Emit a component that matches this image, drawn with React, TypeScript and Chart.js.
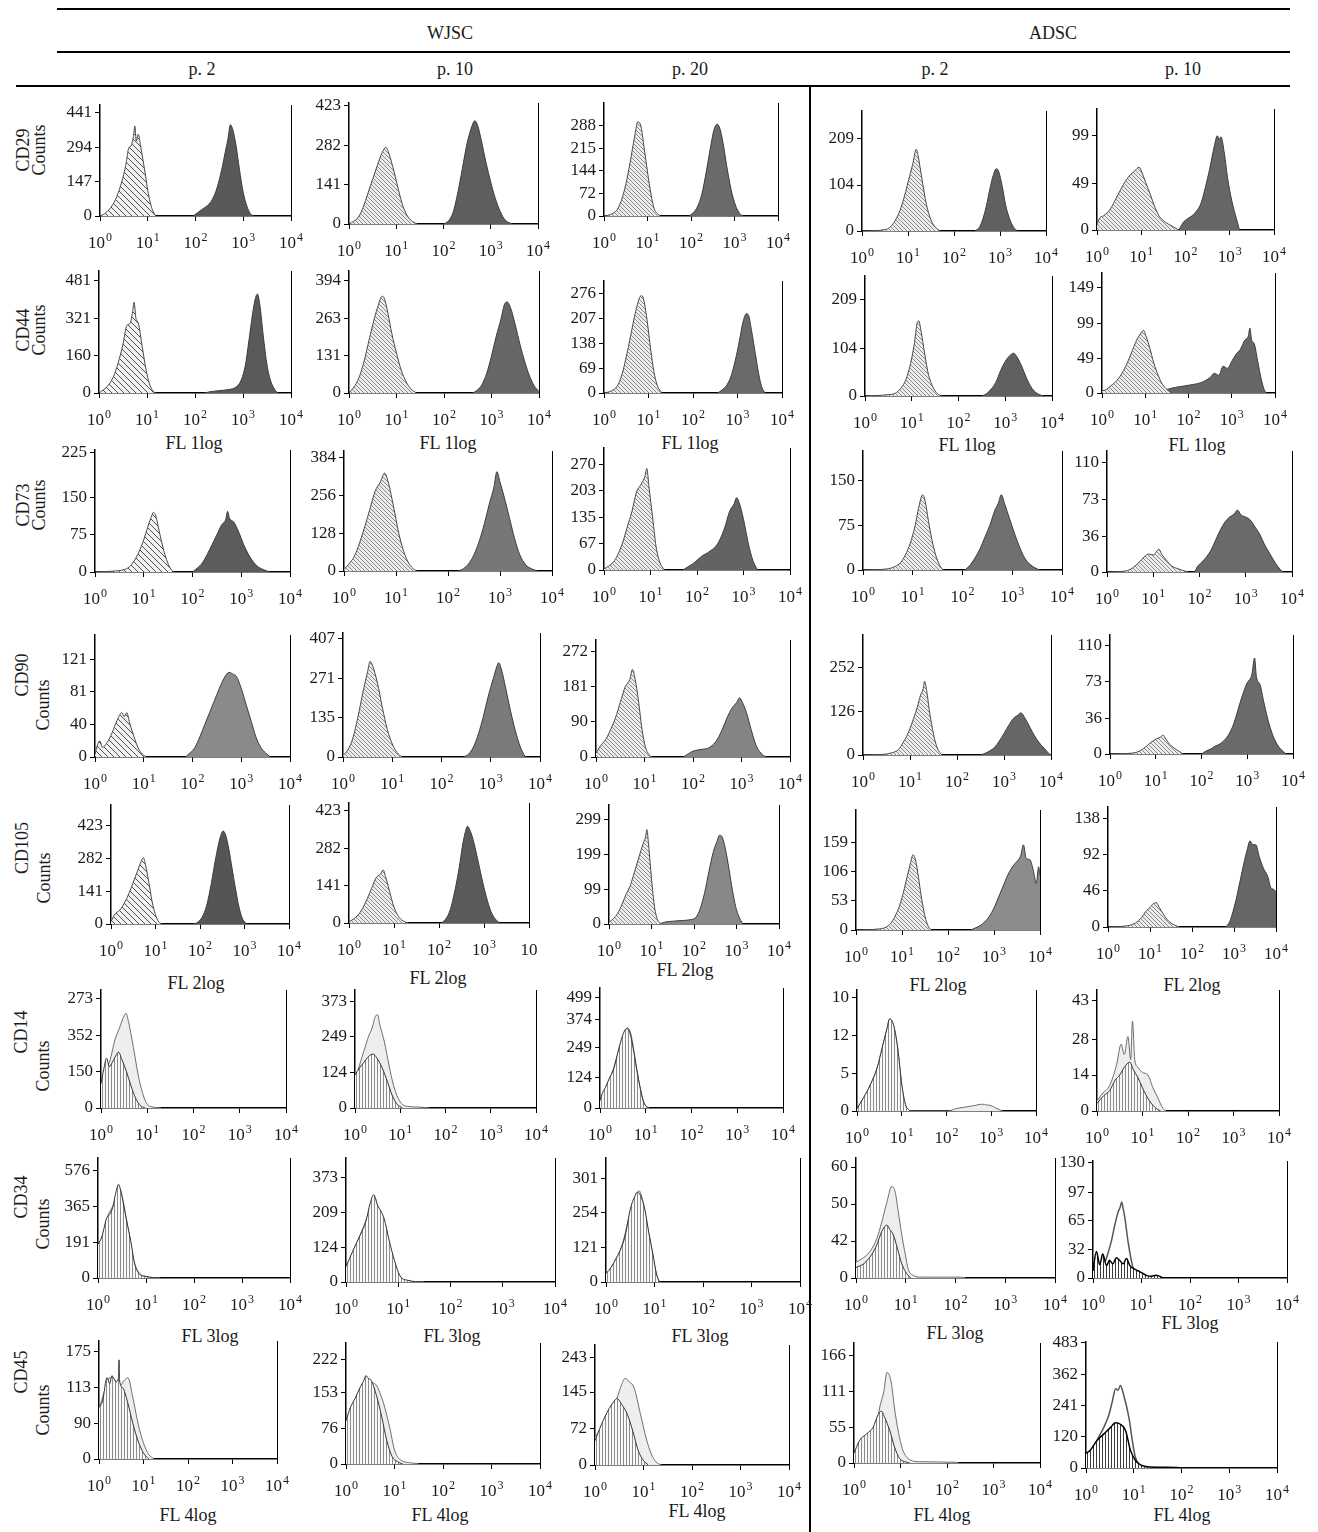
import React, { useEffect, useRef } from 'react';
import { Chart, registerables } from 'chart.js';

Chart.register(...registerables);

type Pt = [number, number];

// ---------- labels ----------
const GROUPS = ['WJSC', 'ADSC'];
const PASSAGES = ['p. 2', 'p. 10', 'p. 20', 'p. 2', 'p. 10'];
const MARKERS = ['CD29', 'CD44', 'CD73', 'CD90', 'CD105', 'CD14', 'CD34', 'CD45'];
const CHANNELS = ['FL 1log', 'FL 2log', 'FL 3log', 'FL 4log'];
const X_DECADES = [0, 1, 2, 3, 4]; // log10 of fluorescence: 10^0 .. 10^4

// ---------- data: [log10(FL), counts] ----------
// CD29
const CD29_ISO: Pt[][] = [
  [[0,0],[0.1,10],[0.2,30],[0.3,60],[0.4,110],[0.5,180],[0.55,230],[0.6,290],[0.65,300],[0.7,340],[0.73,385],[0.76,320],[0.8,350],[0.85,300],[0.9,240],[0.95,178],[1.0,110],[1.05,60],[1.1,25],[1.17,0]],
  [[0,0],[0.1,10],[0.2,25],[0.3,60],[0.4,110],[0.5,160],[0.6,210],[0.7,255],[0.78,275],[0.85,250],[0.95,190],[1.05,120],[1.15,60],[1.25,25],[1.35,8],[1.45,0]],
  [[0,0],[0.15,5],[0.3,20],[0.4,50],[0.5,100],[0.6,170],[0.7,250],[0.78,300],[0.85,285],[0.92,220],[1.0,140],[1.08,70],[1.15,25],[1.25,5],[1.3,0]],
  [[0,0],[0.5,3],[0.6,8],[0.7,20],[0.8,40],[0.9,70],[1.0,110],[1.1,150],[1.18,185],[1.22,170],[1.3,120],[1.4,60],[1.5,25],[1.6,8],[1.7,0]],
  [[0,5],[0.05,12],[0.15,15],[0.3,22],[0.45,35],[0.6,48],[0.75,58],[0.85,62],[0.95,66],[1.02,60],[1.1,50],[1.2,38],[1.3,25],[1.4,15],[1.55,8],[1.7,4],[1.85,0]],
];
const CD29_POS: Pt[][] = [
  [[1.95,0],[2.05,15],[2.15,30],[2.25,45],[2.35,70],[2.45,120],[2.55,200],[2.62,270],[2.68,330],[2.73,390],[2.78,370],[2.85,300],[2.92,200],[3.0,100],[3.08,40],[3.15,10],[3.22,0]],
  [[2.0,0],[2.1,10],[2.2,40],[2.3,110],[2.4,200],[2.5,290],[2.6,350],[2.66,370],[2.72,355],[2.8,300],[2.9,220],[3.0,150],[3.1,90],[3.2,45],[3.3,15],[3.45,0]],
  [[1.95,0],[2.05,10],[2.15,30],[2.25,70],[2.35,140],[2.45,220],[2.53,275],[2.6,292],[2.66,280],[2.74,230],[2.82,160],[2.92,85],[3.02,35],[3.12,8],[3.2,0]],
  [[2.45,0],[2.55,8],[2.62,25],[2.7,55],[2.78,95],[2.85,125],[2.92,141],[2.97,135],[3.05,100],[3.12,60],[3.2,30],[3.3,8],[3.38,0]],
  [[1.85,0],[1.95,8],[2.05,12],[2.15,15],[2.25,20],[2.35,28],[2.45,45],[2.55,65],[2.65,88],[2.72,99],[2.76,95],[2.8,98],[2.88,80],[2.95,55],[3.05,30],[3.15,12],[3.22,0]],
];
const CD29_YTICKS = [[0,147,294,441],[0,141,282,423],[0,72,144,215,288],[0,104,209],[0,49,99]];
const CD29_YMAX = [474, 433, 359, 271, 127];

// CD44
const CD44_ISO: Pt[][] = [
  [[0,0],[0.1,15],[0.2,35],[0.3,70],[0.4,130],[0.5,210],[0.58,290],[0.65,300],[0.7,350],[0.73,390],[0.77,320],[0.82,300],[0.9,200],[0.98,100],[1.05,40],[1.12,10],[1.18,0]],
  [[0,0],[0.1,20],[0.2,50],[0.3,100],[0.4,170],[0.5,240],[0.6,300],[0.7,340],[0.75,330],[0.82,280],[0.9,210],[1.0,140],[1.1,80],[1.2,40],[1.3,15],[1.42,0]],
  [[0,0],[0.15,5],[0.3,20],[0.4,50],[0.5,100],[0.6,160],[0.7,220],[0.8,265],[0.85,270],[0.9,255],[0.97,200],[1.05,120],[1.12,60],[1.2,20],[1.3,0]],
  [[0,0],[0.5,3],[0.65,6],[0.75,15],[0.85,30],[0.95,60],[1.05,110],[1.12,160],[1.15,163],[1.2,140],[1.28,90],[1.35,50],[1.45,20],[1.55,5],[1.65,0]],
  [[0,3],[0.1,5],[0.2,10],[0.3,15],[0.4,22],[0.5,32],[0.6,45],[0.7,60],[0.8,75],[0.9,85],[0.96,89],[1.02,80],[1.1,65],[1.2,42],[1.3,25],[1.4,12],[1.5,5],[1.6,0]],
];
const CD44_POS: Pt[][] = [
  [[2.2,0],[2.3,5],[2.5,10],[2.7,15],[2.85,25],[2.95,50],[3.05,120],[3.12,220],[3.2,340],[3.25,400],[3.3,425],[3.35,380],[3.42,250],[3.5,120],[3.58,50],[3.66,15],[3.73,0]],
  [[2.6,0],[2.7,10],[2.8,30],[2.9,70],[3.0,130],[3.1,200],[3.2,260],[3.27,310],[3.33,320],[3.4,300],[3.5,240],[3.6,170],[3.7,110],[3.8,60],[3.9,25],[4.0,5]],
  [[2.55,0],[2.65,8],[2.75,20],[2.85,45],[2.95,90],[3.05,150],[3.12,195],[3.2,220],[3.25,215],[3.32,170],[3.4,110],[3.48,50],[3.55,15],[3.62,0]],
  [[2.5,0],[2.6,5],[2.7,15],[2.8,30],[2.9,55],[3.0,75],[3.1,88],[3.18,93],[3.25,85],[3.35,65],[3.45,40],[3.55,20],[3.65,8],[3.8,0]],
  [[1.3,0],[1.5,5],[1.7,8],[1.9,10],[2.1,12],[2.3,15],[2.5,22],[2.6,28],[2.7,25],[2.8,38],[2.9,35],[3.0,45],[3.1,55],[3.2,62],[3.3,75],[3.38,80],[3.42,92],[3.46,75],[3.52,70],[3.6,45],[3.68,20],[3.75,5],[3.8,0]],
];
const CD44_YTICKS = [[0,160,321,481],[0,131,263,394],[0,69,138,207,276],[0,104,209],[0,49,99,149]];
const CD44_YMAX = [523, 428, 310, 260, 170];

// CD73
const CD73_ISO: Pt[][] = [
  [[0,0],[0.4,2],[0.6,5],[0.7,10],[0.8,22],[0.9,40],[1.0,65],[1.08,90],[1.15,110],[1.2,120],[1.25,112],[1.3,90],[1.38,55],[1.45,30],[1.52,12],[1.6,0]],
  [[0,5],[0.1,25],[0.2,50],[0.3,95],[0.4,150],[0.5,210],[0.6,270],[0.7,300],[0.78,330],[0.85,300],[0.95,220],[1.05,130],[1.15,65],[1.25,25],[1.35,5],[1.4,0]],
  [[0,3],[0.1,10],[0.2,20],[0.3,40],[0.4,70],[0.5,110],[0.6,150],[0.7,200],[0.8,220],[0.88,240],[0.92,260],[0.97,210],[1.05,130],[1.12,60],[1.2,20],[1.3,0]],
  [[0,0],[0.5,2],[0.65,6],[0.75,12],[0.85,25],[0.95,45],[1.05,75],[1.12,105],[1.2,126],[1.25,115],[1.32,80],[1.4,45],[1.48,20],[1.56,5],[1.62,0]],
  [[0,0],[0.4,1],[0.55,4],[0.7,10],[0.8,15],[0.9,18],[1.0,17],[1.08,21],[1.12,23],[1.18,18],[1.28,12],[1.4,6],[1.55,3],[1.75,0]],
];
const CD73_POS: Pt[][] = [
  [[2.0,0],[2.1,8],[2.2,18],[2.3,35],[2.4,55],[2.5,75],[2.6,95],[2.68,105],[2.72,122],[2.76,108],[2.85,100],[2.95,80],[3.05,55],[3.15,35],[3.25,20],[3.35,10],[3.45,5],[3.58,0]],
  [[2.2,0],[2.3,8],[2.4,25],[2.5,55],[2.6,100],[2.7,160],[2.8,230],[2.88,280],[2.94,335],[3.0,300],[3.08,250],[3.18,180],[3.28,110],[3.38,55],[3.5,20],[3.6,8],[3.72,0]],
  [[1.7,0],[1.8,8],[1.9,15],[2.0,25],[2.1,35],[2.2,42],[2.3,50],[2.4,60],[2.5,80],[2.6,110],[2.7,150],[2.8,170],[2.85,185],[2.9,175],[3.0,130],[3.1,70],[3.2,25],[3.3,0]],
  [[2.05,0],[2.15,8],[2.25,20],[2.35,35],[2.45,55],[2.55,75],[2.65,100],[2.72,112],[2.78,126],[2.85,110],[2.95,85],[3.05,60],[3.15,38],[3.25,20],[3.35,10],[3.45,4],[3.55,0]],
  [[1.9,0],[1.95,5],[2.05,10],[2.15,15],[2.25,22],[2.35,32],[2.45,42],[2.55,50],[2.65,55],[2.75,58],[2.82,62],[2.9,57],[3.0,55],[3.1,52],[3.2,45],[3.3,38],[3.4,28],[3.5,20],[3.6,12],[3.7,5],[3.8,0]],
];
const CD73_YTICKS = [[0,75,150,225],[0,128,256,384],[0,67,135,203,270],[0,75,150],[0,36,73,110]];
const CD73_YPOS = [[0,75,150,240], null, null, null, null];
const CD73_YMAX = [245, 404, 312, 199, 121];

// CD90
const CD90_ISO: Pt[][] = [
  [[0,3],[0.05,15],[0.1,20],[0.15,12],[0.25,18],[0.35,30],[0.45,45],[0.55,55],[0.6,50],[0.65,55],[0.72,40],[0.8,25],[0.88,12],[0.95,5],[1.05,0]],
  [[0,5],[0.1,25],[0.2,65],[0.3,135],[0.4,220],[0.5,295],[0.55,330],[0.6,315],[0.7,255],[0.8,170],[0.9,95],[1.0,45],[1.1,15],[1.2,0]],
  [[0,10],[0.1,30],[0.2,45],[0.3,70],[0.4,100],[0.5,140],[0.6,180],[0.7,200],[0.75,225],[0.8,205],[0.88,140],[0.95,70],[1.02,25],[1.1,5],[1.15,0]],
  [[0,0],[0.45,2],[0.6,6],[0.75,15],[0.85,35],[0.95,60],[1.05,95],[1.15,135],[1.22,170],[1.28,190],[1.31,212],[1.36,180],[1.42,120],[1.5,60],[1.58,20],[1.68,0]],
  [[0,0],[0.5,1],[0.65,3],[0.8,8],[0.9,12],[1.0,15],[1.1,17],[1.16,19],[1.22,15],[1.3,10],[1.4,6],[1.5,3],[1.6,0]],
];
const CD90_POS: Pt[][] = [
  [[1.85,0],[1.95,5],[2.05,12],[2.15,25],[2.25,40],[2.35,55],[2.45,70],[2.55,85],[2.65,98],[2.75,105],[2.82,103],[2.9,100],[3.0,85],[3.1,65],[3.2,45],[3.3,25],[3.4,12],[3.5,5],[3.6,0]],
  [[2.45,0],[2.55,10],[2.65,35],[2.75,80],[2.85,140],[2.95,210],[3.05,270],[3.12,310],[3.16,325],[3.22,300],[3.3,240],[3.4,160],[3.5,90],[3.6,35],[3.7,0]],
  [[1.8,0],[1.9,8],[2.0,15],[2.1,18],[2.2,20],[2.3,22],[2.4,30],[2.5,45],[2.6,70],[2.7,100],[2.8,125],[2.9,140],[2.96,152],[3.02,140],[3.1,115],[3.2,70],[3.3,30],[3.4,10],[3.5,0]],
  [[2.5,0],[2.6,5],[2.7,12],[2.8,22],[2.9,40],[3.0,62],[3.1,85],[3.2,105],[3.3,115],[3.36,121],[3.45,105],[3.55,80],[3.65,55],[3.75,35],[3.85,20],[3.95,5],[4.0,0]],
  [[2.0,0],[2.1,3],[2.2,5],[2.3,8],[2.4,10],[2.5,14],[2.6,20],[2.7,30],[2.8,45],[2.9,60],[3.0,72],[3.05,75],[3.1,80],[3.16,97],[3.2,78],[3.28,70],[3.35,55],[3.45,35],[3.55,20],[3.65,10],[3.75,4],[3.85,0]],
];
const CD90_YTICKS = [[0,40,81,121],[0,135,271,407],[0,90,181,272],[0,126,252],[0,36,73,110]];
const CD90_YMAX = [151, 427, 300, 344, 120];

// CD105
const CD105_ISO: Pt[][] = [
  [[0,10],[0.05,30],[0.1,45],[0.2,60],[0.3,90],[0.4,130],[0.5,180],[0.6,230],[0.68,270],[0.73,285],[0.78,250],[0.85,180],[0.92,100],[1.0,40],[1.07,10],[1.14,0]],
  [[0,5],[0.1,15],[0.2,30],[0.3,55],[0.4,90],[0.5,130],[0.6,170],[0.7,185],[0.76,200],[0.82,170],[0.9,120],[1.0,60],[1.1,25],[1.2,8],[1.32,0]],
  [[0,5],[0.1,15],[0.2,30],[0.3,55],[0.4,85],[0.5,110],[0.6,150],[0.7,190],[0.8,230],[0.86,250],[0.89,271],[0.93,230],[1.0,130],[1.07,50],[1.15,10],[1.25,0]],
  [[0,0],[0.5,2],[0.65,5],[0.75,12],[0.85,25],[0.95,45],[1.05,75],[1.12,100],[1.18,120],[1.24,137],[1.3,125],[1.36,95],[1.42,60],[1.5,25],[1.58,5],[1.65,0]],
  [[0,0],[0.5,2],[0.65,5],[0.8,12],[0.9,20],[1.0,25],[1.08,30],[1.15,31],[1.22,25],[1.3,18],[1.4,10],[1.5,5],[1.6,2],[1.7,0]],
];
const CD105_POS: Pt[][] = [
  [[1.85,0],[1.95,8],[2.05,30],[2.15,80],[2.25,170],[2.35,280],[2.45,370],[2.52,400],[2.58,380],[2.65,320],[2.72,240],[2.8,150],[2.88,70],[2.96,20],[3.05,0]],
  [[2.05,0],[2.15,15],[2.25,50],[2.35,120],[2.45,210],[2.52,290],[2.58,340],[2.63,365],[2.7,345],[2.78,300],[2.86,240],[2.95,170],[3.05,100],[3.15,45],[3.25,15],[3.35,0]],
  [[1.2,0],[1.3,5],[1.5,8],[1.7,10],[1.9,12],[2.05,20],[2.15,45],[2.25,90],[2.35,150],[2.45,205],[2.55,240],[2.6,255],[2.66,250],[2.74,215],[2.82,160],[2.9,100],[2.98,50],[3.06,20],[3.15,0]],
  [[2.5,0],[2.6,4],[2.7,8],[2.8,15],[2.9,25],[3.0,40],[3.1,60],[3.2,80],[3.3,100],[3.4,115],[3.5,125],[3.58,135],[3.64,155],[3.7,130],[3.78,128],[3.85,110],[3.92,85],[3.97,115],[4.0,100]],
  [[2.8,0],[2.88,5],[2.95,15],[3.05,35],[3.15,60],[3.25,85],[3.32,100],[3.38,110],[3.45,105],[3.52,105],[3.6,90],[3.7,75],[3.8,65],[3.88,50],[3.95,48],[4.0,45]],
];
const CD105_YTICKS = [[0,141,282,423],[0,141,282,423],[0,99,199,299],[0,53,106,159],[0,46,92,138]];
const CD105_YMAX = [511, 452, 341, 218, 153];

// CD14 (barred = isotype, light = sample)
const CD14_ISO: Pt[][] = [
  [[0,100],[0.06,160],[0.12,205],[0.18,170],[0.25,190],[0.32,215],[0.38,230],[0.45,200],[0.55,150],[0.65,90],[0.75,40],[0.85,10],[0.95,0]],
  [[0,115],[0.1,140],[0.2,160],[0.3,180],[0.4,188],[0.48,175],[0.6,140],[0.72,90],[0.82,45],[0.92,15],[1.05,0]],
  [[0,30],[0.05,60],[0.12,85],[0.2,120],[0.3,160],[0.38,220],[0.45,270],[0.52,310],[0.58,325],[0.65,310],[0.72,250],[0.8,160],[0.88,80],[0.95,25],[1.02,5],[1.08,0]],
  [[0,0.3],[0.15,1.8],[0.3,3.5],[0.45,5.7],[0.56,8.3],[0.67,10.9],[0.73,12.2],[0.82,11.3],[0.91,8.3],[1.0,3.5],[1.08,0.9],[1.19,0]],
  [[0,3],[0.15,6],[0.28,8],[0.4,12],[0.5,14],[0.6,17],[0.72,19],[0.8,16],[0.9,13],[1.0,9],[1.15,4],[1.3,1],[1.4,0]],
];
const CD14_SAMPLE: Pt[][] = [
  [[0,80],[0.1,150],[0.2,200],[0.3,280],[0.4,330],[0.5,380],[0.54,390],[0.6,350],[0.7,250],[0.8,140],[0.9,60],[1.0,15],[1.1,5],[1.3,0]],
  [[0,95],[0.1,150],[0.2,200],[0.3,250],[0.38,280],[0.45,320],[0.5,325],[0.55,290],[0.65,230],[0.75,150],[0.85,80],[0.95,35],[1.05,12],[1.2,5],[1.45,3],[1.65,0]],
  [[0,25],[0.1,70],[0.2,115],[0.3,165],[0.4,230],[0.5,290],[0.6,330],[0.68,300],[0.76,210],[0.85,110],[0.93,40],[1.0,8],[1.08,0]],
  [[0,0.3],[0.15,1.8],[0.3,3.5],[0.45,5.7],[0.56,8.3],[0.67,10.9],[0.73,12.2],[0.82,11.3],[0.91,8.3],[1.0,3.5],[1.08,0.9],[1.19,0],[2.05,0],[2.2,0.3],[2.4,0.5],[2.6,0.7],[2.8,0.9],[2.9,0.8],[3.0,0.7],[3.1,0.4],[3.25,0]],
  [[0,4],[0.13,7],[0.28,10],[0.43,18],[0.53,26],[0.6,22],[0.68,29],[0.74,20],[0.78,35],[0.83,20],[0.9,17],[1.0,15],[1.12,14],[1.23,9],[1.34,5],[1.45,1],[1.52,0]],
];
const CD14_YTICKS = [[0,150,352,273],[0,124,249,373],[0,124,249,374,499],[0,5,12,10],[0,14,28,43]];
const CD14_YPOS = [[0,150,300,450], null, [0,124,249,364,451], [0,5,10,15], null];
const CD14_YMAX = [485, 411, 491, 16, 47];

// CD34
const CD34_ISO: Pt[][] = [
  [[0,180],[0.08,220],[0.18,320],[0.26,345],[0.32,390],[0.37,455],[0.43,500],[0.47,470],[0.52,410],[0.6,300],[0.68,200],[0.76,80],[0.85,25],[1.0,8],[1.27,0]],
  [[0,55],[0.13,110],[0.28,170],[0.38,215],[0.46,278],[0.53,310],[0.6,275],[0.73,225],[0.83,145],[0.93,75],[1.03,23],[1.18,6],[1.48,0]],
  [[0,30],[0.1,50],[0.2,80],[0.29,110],[0.4,165],[0.5,255],[0.58,295],[0.65,315],[0.72,300],[0.8,255],[0.88,175],[0.97,95],[1.04,28],[1.1,0]],
  [[0,12],[0.15,16],[0.32,27],[0.42,38],[0.52,53],[0.62,60],[0.68,55],[0.75,49],[0.83,34],[0.92,16],[1.02,5],[1.1,0]],
  [[0,8],[0.07,30],[0.14,15],[0.2,27],[0.28,14],[0.34,20],[0.41,16],[0.48,23],[0.55,20],[0.62,16],[0.69,22],[0.76,14],[0.86,10],[0.97,7],[1.1,3],[1.2,2],[1.3,3],[1.45,0]],
];
const CD34_SAMPLE: Pt[][] = [
  [[0,170],[0.1,230],[0.2,330],[0.3,380],[0.38,430],[0.44,480],[0.5,440],[0.58,330],[0.66,220],[0.75,90],[0.85,30],[1.0,8],[1.3,0]],
  [[0,50],[0.15,115],[0.3,180],[0.42,240],[0.5,290],[0.55,300],[0.62,260],[0.75,200],[0.85,120],[0.95,55],[1.05,15],[1.2,4],[1.5,0]],
  [[0,25],[0.12,55],[0.25,95],[0.35,140],[0.45,210],[0.55,270],[0.62,300],[0.68,320],[0.75,290],[0.85,200],[0.95,110],[1.03,35],[1.1,0]],
  [[0,18],[0.15,23],[0.28,30],[0.42,45],[0.52,64],[0.62,86],[0.72,104],[0.79,97],[0.85,75],[0.92,49],[0.99,27],[1.05,10],[1.15,3],[1.3,1],[2.1,1],[2.2,0]],
  [[0.1,0],[0.14,3],[0.28,23],[0.38,42],[0.45,60],[0.52,75],[0.56,80],[0.59,86],[0.62,79],[0.66,67],[0.72,42],[0.79,20],[0.86,5],[0.93,0]],
];
const CD34_YTICKS = [[0,191,365,576],[0,124,209,373],[0,121,254,301],[0,42,50,60],[0,32,65,97,130]];
const CD34_YPOS = [[0,191,382,573],[0,124,248,373],[0,121,242,363],[0,42,84,126], null];
const CD34_YMAX = [640, 440, 434, 136, 132];

// CD45
const CD45_ISO: Pt[][] = [
  [[0,130],[0.08,146],[0.18,205],[0.24,190],[0.29,210],[0.38,195],[0.44,205],[0.45,250],[0.46,200],[0.53,180],[0.65,140],[0.76,90],[0.88,45],[1.0,15],[1.12,0]],
  [[0,92],[0.09,120],[0.19,140],[0.3,165],[0.37,178],[0.41,188],[0.46,182],[0.52,178],[0.63,145],[0.74,99],[0.84,50],[0.95,16],[1.06,5],[1.17,0]],
  [[0,48],[0.13,80],[0.29,112],[0.38,125],[0.45,132],[0.56,119],[0.67,100],[0.78,67],[0.89,29],[0.99,10],[1.1,0]],
  [[0,15],[0.12,35],[0.27,45],[0.41,55],[0.52,75],[0.59,80],[0.66,70],[0.77,50],[0.87,25],[0.98,7],[1.09,2],[1.2,0]],
  [[0,56],[0.09,69],[0.23,106],[0.37,131],[0.51,156],[0.62,175],[0.72,169],[0.83,144],[0.93,69],[1.03,31],[1.14,12],[1.35,4],[1.9,2],[2.0,0]],
];
const CD45_SAMPLE: Pt[][] = [
  [[0,125],[0.12,170],[0.24,205],[0.35,200],[0.47,185],[0.58,200],[0.65,205],[0.76,155],[0.88,88],[1.0,40],[1.12,11],[1.24,0]],
  [[0,80],[0.19,125],[0.41,160],[0.57,172],[0.74,140],[0.9,78],[1.0,30],[1.12,9],[1.38,2],[1.5,0]],
  [[0,55],[0.13,74],[0.29,100],[0.45,132],[0.55,160],[0.62,172],[0.72,164],[0.8,155],[0.94,100],[1.05,55],[1.16,22],[1.26,6],[1.37,0]],
  [[0,5],[0.05,8],[0.19,25],[0.34,40],[0.48,55],[0.55,85],[0.64,110],[0.71,140],[0.8,125],[0.87,85],[0.95,50],[1.05,20],[1.2,5],[1.41,2],[2.2,1],[2.25,0]],
  [[0.05,0],[0.09,31],[0.23,106],[0.37,156],[0.48,206],[0.55,256],[0.62,306],[0.67,300],[0.72,319],[0.79,281],[0.9,194],[0.97,106],[1.03,44],[1.14,6],[1.21,0]],
];
const CD45_YTICKS = [[0,90,113,175],[0,76,153,222],[0,72,145,243],[0,55,111,166],[0,120,241,362,483]];
const CD45_YPOS = [[0,90,180,270], null, [0,72,145,214], null, null];
const CD45_YMAX = [297, 257, 238, 185, 486];

// ---------- assembly ----------
const ROWS = [
  { iso: CD29_ISO, pos: CD29_POS, ticks: CD29_YTICKS, tickPos: null, ymax: CD29_YMAX, kind: 'pos' },
  { iso: CD44_ISO, pos: CD44_POS, ticks: CD44_YTICKS, tickPos: null, ymax: CD44_YMAX, kind: 'pos' },
  { iso: CD73_ISO, pos: CD73_POS, ticks: CD73_YTICKS, tickPos: CD73_YPOS, ymax: CD73_YMAX, kind: 'pos' },
  { iso: CD90_ISO, pos: CD90_POS, ticks: CD90_YTICKS, tickPos: null, ymax: CD90_YMAX, kind: 'pos' },
  { iso: CD105_ISO, pos: CD105_POS, ticks: CD105_YTICKS, tickPos: null, ymax: CD105_YMAX, kind: 'pos' },
  { iso: CD14_ISO, pos: CD14_SAMPLE, ticks: CD14_YTICKS, tickPos: CD14_YPOS, ymax: CD14_YMAX, kind: 'bar' },
  { iso: CD34_ISO, pos: CD34_SAMPLE, ticks: CD34_YTICKS, tickPos: CD34_YPOS, ymax: CD34_YMAX, kind: 'bar' },
  { iso: CD45_ISO, pos: CD45_SAMPLE, ticks: CD45_YTICKS, tickPos: CD45_YPOS, ymax: CD45_YMAX, kind: 'bar' },
];

// ---------- layout / style ----------
const FONT = '"Liberation Serif", "Times New Roman", serif';
const YW = 44, PR = 20, PT = 10, XH = 40;
// plot area [left, top, right, bottom] of each panel
const RECTS = [
  [[100,102,291,216],[349,100,538,224],[604,100,778,216],[862,108,1046,231],[1097,106,1274,230]],
  [[99,268,291,393],[349,268,539,393],[604,278,782,393],[865,273,1052,396],[1102,270,1275,393]],
  [[95,447,290,572],[344,448,552,571],[604,445,790,570],[863,448,1062,570],[1107,448,1292,572]],
  [[95,632,290,757],[343,630,540,757],[596,637,790,757],[863,632,1051,755],[1110,632,1293,754]],
  [[111,802,289,924],[349,800,529,923],[609,802,779,924],[856,807,1040,930],[1108,804,1276,927]],
  [[101,987,286,1108],[355,987,536,1108],[600,985,783,1108],[857,987,1036,1111],[1097,987,1279,1111]],
  [[98,1155,290,1278],[346,1155,555,1282],[606,1155,800,1282],[856,1155,1055,1278],[1093,1158,1287,1278]],
  [[99,1338,277,1459],[346,1340,540,1464],[595,1342,789,1465],[854,1340,1040,1463],[1086,1339,1277,1468]],
];
const POS_COLORS = [
  ['#595959','#5e5e5e','#6a6a6a','#606060','#666666'],
  ['#5a5a5a','#666666','#6a6a6a','#606060','#666666'],
  ['#5c5c5c','#777777','#636363','#707070','#6a6a6a'],
  ['#8a8a8a','#7a7a7a','#848484','#666666','#6a6a6a'],
  ['#555555','#5a5a5a','#888888','#8c8c8c','#666666'],
];
const CHANNEL_POS = [
  { row: 1, pts: [[194,443],[448,443],[690,443],[967,445],[1197,445]] },
  { row: 4, pts: [[196,983],[438,978],[685,970],[938,985],[1192,985]] },
  { row: 6, pts: [[210,1336],[452,1336],[700,1336],[955,1333],[1190,1323]] },
  { row: 7, pts: [[188,1515],[440,1515],[697,1511],[942,1515],[1182,1515]] },
];
const ROW_LABEL_POS = [
  [[23,150],[39,150]], [[23,330],[39,330]], [[23,505],[39,505]], [[22,675],[43,705]],
  [[22,848],[44,878]], [[21,1032],[43,1066]], [[21,1197],[43,1224]], [[21,1372],[43,1410]],
];

function makeHatch(ctx: CanvasRenderingContext2D, size: number, bg: string, fg: string) {
  const c = document.createElement('canvas');
  c.width = size; c.height = size;
  const g = c.getContext('2d')!;
  g.fillStyle = bg; g.fillRect(0, 0, size, size);
  g.strokeStyle = fg; g.lineWidth = 1;
  g.beginPath();
  for (const k of [-size, 0, size]) { g.moveTo(k, 0); g.lineTo(k + size, size); }
  g.stroke();
  return ctx.createPattern(c, 'repeat');
}
function makeBars(ctx: CanvasRenderingContext2D, w: number, bg: string, fg: string) {
  const c = document.createElement('canvas');
  c.width = w; c.height = 4;
  const g = c.getContext('2d')!;
  g.fillStyle = bg; g.fillRect(0, 0, w, 4);
  g.fillStyle = fg; g.fillRect(0, 0, 1, 4);
  return ctx.createPattern(c, 'repeat');
}
const toXY = (pts: Pt[]) => pts.map(([x, y]) => ({ x, y }));

const xLabelPlugin = {
  id: 'xlabels',
  afterDraw(chart: any, _args: any, opts: any) {
    const { ctx, chartArea, scales } = chart;
    const xs = scales.x;
    ctx.save();
    ctx.fillStyle = '#1a1a1a';
    ctx.textAlign = 'left';
    ctx.textBaseline = 'alphabetic';
    X_DECADES.forEach((v, i) => {
      const px = xs.getPixelForValue(v);
      const sup = opts && opts.truncLast && i === X_DECADES.length - 1 ? '' : String(v);
      ctx.font = `17px ${FONT}`;
      const w1 = ctx.measureText('10').width;
      ctx.font = `12px ${FONT}`;
      const w2 = sup ? ctx.measureText(sup).width + 1 : 0;
      const x0 = px - (w1 + w2) / 2;
      const y = chartArea.bottom + 32;
      ctx.font = `17px ${FONT}`;
      ctx.fillText('10', x0, y);
      if (sup) {
        ctx.font = `12px ${FONT}`;
        ctx.fillText(sup, x0 + w1 + 1, y - 7);
      }
    });
    ctx.restore();
  },
};

function Panel({ r, c }: { r: number; c: number }) {
  const ref = useRef<HTMLCanvasElement>(null);
  const [L, T, R, B] = RECTS[r][c];
  const w = R - L + YW + PR;
  const h = B - T + PT + XH;
  useEffect(() => {
    const canvas = ref.current!;
    const ctx = canvas.getContext('2d')!;
    const row = ROWS[r];
    let datasets: any[];
    if (row.kind === 'pos') {
      const hatch = c === 0 ? makeHatch(ctx, 6, '#f2f2f2', '#505050') : makeHatch(ctx, 4, '#ececec', '#8a8a8a');
      datasets = [
        { data: toXY(row.iso[c]), backgroundColor: hatch, borderColor: '#4a4a4a', borderWidth: 1, fill: 'origin' },
        { data: toXY(row.pos[c]), backgroundColor: POS_COLORS[r][c], borderColor: '#3d3d3d', borderWidth: 1, fill: 'origin' },
      ];
    } else {
      const dark = c === 4 && r >= 6;
      const bars = makeBars(ctx, 3, dark ? '#ffffff' : '#fafafa', dark ? '#3a3a3a' : '#8c8c8c');
      datasets = [
        { data: toXY(row.iso[c]), backgroundColor: bars, borderColor: dark ? '#000' : '#333', borderWidth: dark ? 1.5 : 1, fill: 'origin' },
        { data: toXY(row.pos[c]), backgroundColor: dark ? 'rgba(0,0,0,0)' : '#eeeeee', borderColor: dark ? '#555' : '#6e6e6e', borderWidth: dark ? 1.5 : 1, fill: dark ? false : 'origin' },
      ];
    }
    const labels: number[] = row.ticks[c];
    const positions: number[] = (row.tickPos && row.tickPos[c]) || labels;
    const chart = new Chart(canvas, {
      type: 'line',
      data: { datasets },
      plugins: [xLabelPlugin as any],
      options: {
        animation: false,
        responsive: false,
        maintainAspectRatio: false,
        devicePixelRatio: 1,
        events: [],
        layout: { padding: { top: PT, right: PR, left: 0, bottom: 0 } },
        elements: { point: { radius: 0 }, line: { cubicInterpolationMode: 'monotone' } },
        plugins: {
          legend: { display: false },
          tooltip: { enabled: false },
          xlabels: { truncLast: r === 4 && c === 1 },
        } as any,
        scales: {
          x: {
            type: 'linear', position: 'bottom', min: 0, max: 4,
            afterBuildTicks: (a: any) => { a.ticks = X_DECADES.map((v) => ({ value: v })); },
            ticks: { display: false },
            grid: { drawOnChartArea: false, drawTicks: true, tickLength: 5, color: '#000', lineWidth: 1 },
            border: { display: true, color: '#000', width: 1.5 },
            afterFit: (s: any) => { s.height = XH; },
          },
          y: {
            type: 'linear', position: 'left', min: 0, max: row.ymax[c],
            afterBuildTicks: (a: any) => { a.ticks = positions.map((v) => ({ value: v })); },
            ticks: {
              autoSkip: false, padding: 3, color: '#1a1a1a',
              font: { family: FONT, size: 17 },
              callback: (_v: any, i: number) => String(labels[i]),
            },
            grid: { drawOnChartArea: false, drawTicks: true, tickLength: 5, color: '#000', lineWidth: 1 },
            border: { display: true, color: '#000', width: 1.5 },
            afterFit: (s: any) => { s.width = YW; },
          },
          rb: {
            type: 'linear', position: 'right', min: 0, max: 1, display: true,
            ticks: { display: false },
            grid: { drawOnChartArea: false, drawTicks: false },
            border: { display: true, color: '#000', width: 1 },
            afterFit: (s: any) => { s.width = 0; },
          },
        } as any,
      },
    });
    return () => chart.destroy();
  }, [r, c]);
  return (
    <canvas
      ref={ref}
      width={w}
      height={h}
      style={{ position: 'absolute', left: L - YW, top: T - PT, width: w, height: h }}
    />
  );
}

const txt = (cx: number, cy: number, size: number, rotate = false): React.CSSProperties => ({
  position: 'absolute', left: cx, top: cy, fontFamily: FONT, fontSize: size, color: '#1a1a1a',
  whiteSpace: 'nowrap', lineHeight: 1,
  transform: `translate(-50%, -50%)${rotate ? ' rotate(-90deg)' : ''}`,
});
const hline = (x1: number, x2: number, y: number): React.CSSProperties => ({
  position: 'absolute', left: x1, top: y - 1, width: x2 - x1, height: 2, background: '#000',
});

export default function App() {
  const panels: JSX.Element[] = [];
  for (let r = 0; r < ROWS.length; r++) for (let c = 0; c < 5; c++) panels.push(<Panel key={`${r}-${c}`} r={r} c={c} />);
  const passX = [202, 455, 690, 935, 1183];
  return (
    <div style={{ position: 'absolute', left: 0, top: 0, width: 1318, height: 1532, background: '#fff', overflow: 'hidden' }}>
      <div style={hline(57, 1290, 9)} />
      <div style={hline(57, 1290, 52)} />
      <div style={hline(16, 1290, 86)} />
      <div style={{ position: 'absolute', left: 809, top: 86, width: 2, height: 1446, background: '#000' }} />
      <div style={txt(450, 33, 18)}>{GROUPS[0]}</div>
      <div style={txt(1053, 33, 18)}>{GROUPS[1]}</div>
      {PASSAGES.map((p, i) => (
        <div key={'p' + i} style={txt(passX[i], 69, 18)}>{p}</div>
      ))}
      {MARKERS.map((m, i) => (
        <React.Fragment key={'m' + i}>
          <div style={txt(ROW_LABEL_POS[i][0][0], ROW_LABEL_POS[i][0][1], 18, true)}>{m}</div>
          <div style={txt(ROW_LABEL_POS[i][1][0], ROW_LABEL_POS[i][1][1], 18, true)}>Counts</div>
        </React.Fragment>
      ))}
      {CHANNEL_POS.map((ch, k) =>
        ch.pts.map(([x, y], i) => (
          <div key={`fl${k}-${i}`} style={txt(x, y, 18)}>{CHANNELS[k]}</div>
        ))
      )}
      {panels}
    </div>
  );
}
